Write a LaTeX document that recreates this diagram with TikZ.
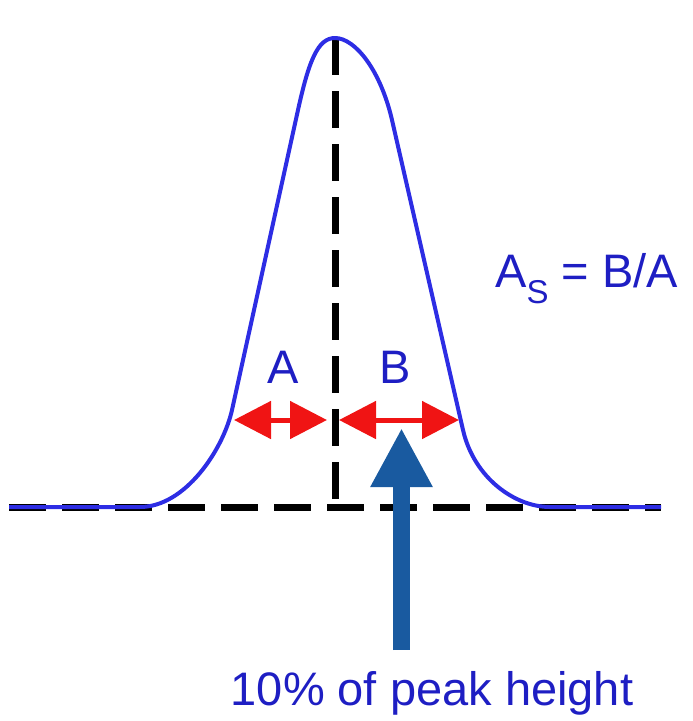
\documentclass[tikz,border=0pt]{standalone}
\usepackage{fontspec}
\setmainfont{Liberation Sans}
\usetikzlibrary{arrows.meta}
\definecolor{curveblue}{RGB}{45,45,228}
\definecolor{textblue}{RGB}{30,30,195}
\definecolor{steel}{RGB}{25,90,160}
\definecolor{arrowred}{RGB}{240,20,20}
\tikzset{
  guide/.style={black, line width=7pt, dash pattern=on 37pt off 16pt},
  peak/.style={curveblue, line width=4pt, line join=round},
  widtharrow/.style={arrowred, line width=5pt, {Triangle[width=37pt,length=37pt]}-{Triangle[width=37pt,length=37pt]}},
  bigarrow/.style={steel, line width=17pt, -{Triangle[width=58pt,length=59pt]}},
  lbl/.style={textblue, inner sep=0pt, font=\fontsize{47}{56}\selectfont},
}
\begin{document}
\begin{tikzpicture}[x=1pt,y=-1pt]
\useasboundingbox (0,0) rectangle (693,721);
% guide lines
\coordinate (top) at (335,38);
\coordinate (foot) at (335,507);
\coordinate (bl) at (9,507);
\coordinate (br) at (661,507);
\draw[guide] (bl) -- (br);
\draw[guide] (top) -- (foot);
% peak curve
\draw[peak] (bl) -- (140,507)
  .. controls (185,507) and (223,450) .. (232,410)
  -- (298,110)
  .. controls (309,60) and (318,38) .. (top)
  .. controls (355,38) and (380.5,70) .. (392,120)
  -- (463,430)
  .. controls (474,478) and (515,507) .. (550,507)
  -- (br);
% width arrows
\coordinate (a1) at (234,420);
\coordinate (a2) at (327,420);
\coordinate (b1) at (339,420);
\coordinate (b2) at (459,420);
\draw[widtharrow] (a1) -- (a2);
\draw[widtharrow] (b1) -- (b2);
\node[lbl, anchor=base] (la) at (283,383) {A};
\node[lbl, anchor=base] (lb) at (395,383) {B};
% asymmetry formula
\node[lbl, anchor=base west] (formula) at (495,287) {A\raisebox{-16pt}{\fontsize{33}{33}\selectfont S} = B/A};
% 10% arrow
\coordinate (arrbot) at (401.5,650);
\coordinate (arrtip) at (401.5,428);
\draw[bigarrow] (arrbot) -- (arrtip);
\node[lbl, anchor=base] (caption) at (432,705) {10\% of peak height};
\end{tikzpicture}
\end{document}
